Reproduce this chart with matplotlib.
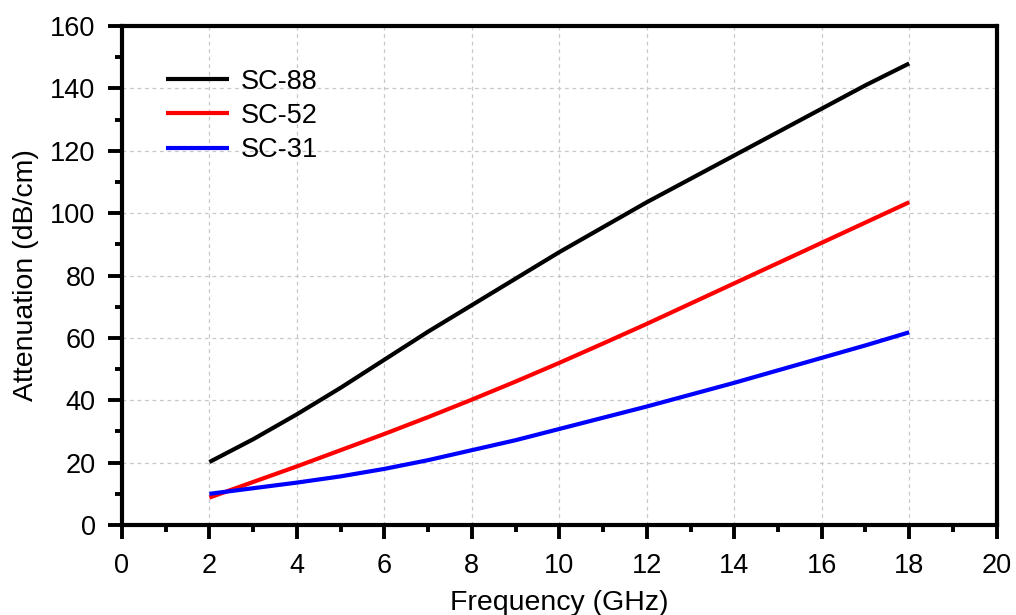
import numpy as np
import matplotlib
matplotlib.use('Agg')
import matplotlib.pyplot as plt
from matplotlib.ticker import MultipleLocator

# frequency points (GHz) and attenuation (dB/cm)
freq = [2, 3, 4, 5, 6, 7, 8, 9, 10, 11, 12, 13, 14, 15, 16, 17, 18]
sc88 = [20.2, 27.5, 35.5, 44.0, 53.0, 62.0, 70.5, 79.0, 87.5, 95.5, 103.5, 111.0, 118.5, 126.0, 133.5, 141.0, 148.0]
sc52 = [8.8, 13.8, 18.8, 24.0, 29.2, 34.6, 40.2, 46.0, 52.0, 58.2, 64.5, 71.0, 77.5, 84.0, 90.5, 97.0, 103.5]
sc31 = [10.0, 11.8, 13.6, 15.6, 18.0, 20.8, 24.0, 27.2, 30.8, 34.4, 38.0, 41.8, 45.6, 49.6, 53.6, 57.6, 61.8]
names = ['SC-88', 'SC-52', 'SC-31']
colors = ['black', 'red', 'blue']

plt.rcParams['font.family'] = ['Liberation Sans', 'DejaVu Sans']

fig = plt.figure(figsize=(10.16, 6.15), dpi=100)
axis = fig.add_axes([0.120, 0.1463, 0.861, 0.8114])

for series, name, col in zip([sc88, sc52, sc31], names, colors):
    axis.plot(freq, series, color=col, lw=3.0, label=name, solid_capstyle='butt')

axis.set_xlim(0, 20)
axis.set_ylim(0, 160)
axis.xaxis.set_major_locator(MultipleLocator(2))
axis.xaxis.set_minor_locator(MultipleLocator(1))
axis.yaxis.set_major_locator(MultipleLocator(20))
axis.yaxis.set_minor_locator(MultipleLocator(10))

axis.grid(True, which='major', color='#c8c8c8', ls=(0, (3, 3)), lw=0.9)
axis.set_axisbelow(True)

for sp in axis.spines.values():
    sp.set_linewidth(3.0)

axis.tick_params(which='major', direction='out', length=10, width=2.8, labelsize=19.5)
axis.tick_params(axis='x', which='major', pad=10)
axis.tick_params(axis='y', which='major', pad=9)
axis.tick_params(which='minor', direction='out', length=5, width=2.8)
axis.tick_params(top=False, right=False)

axis.set_xlabel('Frequency (GHz)', fontsize=20.5, labelpad=8)
axis.set_ylabel('Attenuation (dB/cm)', fontsize=20.5, labelpad=8)

axis.legend(loc='upper left', bbox_to_anchor=(0.022, 0.963), frameon=False, fontsize=19.5,
            handlelength=2.36, labelspacing=0.3, handletextpad=0.42)

fig.savefig('out.png', dpi=100)
plt.close(fig)
